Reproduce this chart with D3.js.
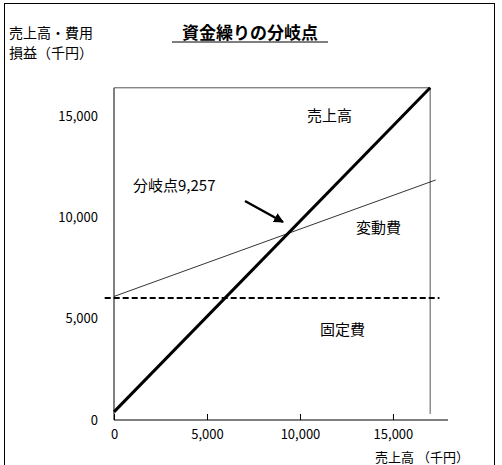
<!DOCTYPE html><html><head><meta charset="utf-8"><script src="https://cdn.jsdelivr.net/npm/d3@7"></script>
<style>body{margin:0;background:#fff}text{font-family:"Noto Sans CJK JP",sans-serif}</style></head><body><svg id="c" width="502" height="465"></svg>
<script>
const xTicks=[0,5000,10000,15000];
const yTicks=[0,5000,10000,15000];
const salesLine=[[0,400],[17000,16400]];
const variableLine=[[0,6100],[17300,11850]];
const fixedLine=[[-500,6020],[17500,6020]];
const topLine=[[0,16400],[17000,16400]];
const breakEven=9257;
const svg=d3.select("#c");
const x=d3.scaleLinear().domain([0,17960]).range([114,448]);
const y=d3.scaleLinear().domain([0,16400]).range([420,87.8]);
svg.append("rect").attr("x",4.5).attr("y",3.5).attr("width",490).attr("height",470).attr("fill","none").attr("stroke","#000");
svg.append("g").attr("transform","translate(0,420)").call(d3.axisBottom(x).tickValues(xTicks).tickSize(-6).tickPadding(10).tickFormat(d3.format(",")))
 .call(g=>{g.select(".domain").attr("d","M114,0H448");g.selectAll("text").attr("font-size",13).attr("font-family","Arial, Liberation Sans");});
svg.append("g").attr("transform","translate(114,0)").call(d3.axisLeft(y).tickValues(yTicks).tickSize(0).tickPadding(16).tickFormat(d3.format(",")))
 .call(g=>{g.select(".domain").attr("d","M0,"+y(16400)+"V420");g.selectAll("text").attr("font-size",13).attr("font-family","Arial, Liberation Sans");});
const line=d3.line().x(d=>x(d[0])).y(d=>y(d[1]));
svg.append("path").attr("d",line(topLine)).attr("stroke","#555").attr("fill","none");
svg.append("path").attr("d",line([[17000,16400],[17000,300]])).attr("stroke","#555").attr("fill","none");
svg.append("path").attr("d",line(variableLine)).attr("stroke","#000").attr("stroke-width",0.8).attr("fill","none");
svg.append("path").attr("d",line(fixedLine)).attr("stroke","#000").attr("stroke-width",2).attr("stroke-dasharray","6,3").attr("fill","none");
svg.append("path").attr("d",line(salesLine)).attr("stroke","#000").attr("stroke-width",3).attr("fill","none");
svg.append("defs").append("marker").attr("id","ar").attr("viewBox","0 0 10 10").attr("refX",9).attr("refY",5).attr("markerWidth",4).attr("markerHeight",4).attr("orient","auto").append("path").attr("d","M0,0L10,5L0,10z");
svg.append("line").attr("x1",245).attr("y1",201).attr("x2",283).attr("y2",222).attr("stroke","#000").attr("stroke-width",2.5).attr("marker-end","url(#ar)");
const t=(s,xx,yy,o={})=>svg.append("text").attr("x",xx).attr("y",yy).attr("font-size",o.fs||15).attr("font-weight",o.fw||"normal").attr("text-anchor",o.a||"start").text(s);
t("資金繰りの分岐点",250,39,{fs:17,fw:"bold",a:"middle"});
svg.append("line").attr("x1",172).attr("x2",328).attr("y1",42).attr("y2",42).attr("stroke","#000").attr("stroke-width",1.2);
t("売上高・費用",9,38,{fs:14});t("損益（千円）",9,58,{fs:14});
t("売上高",307,121);t("分岐点"+d3.format(",")(breakEven),133,191);t("変動費",356,233);t("固定費",320,335);
t("売上高 （千円）",375,462,{fs:13});
</script></body></html>
